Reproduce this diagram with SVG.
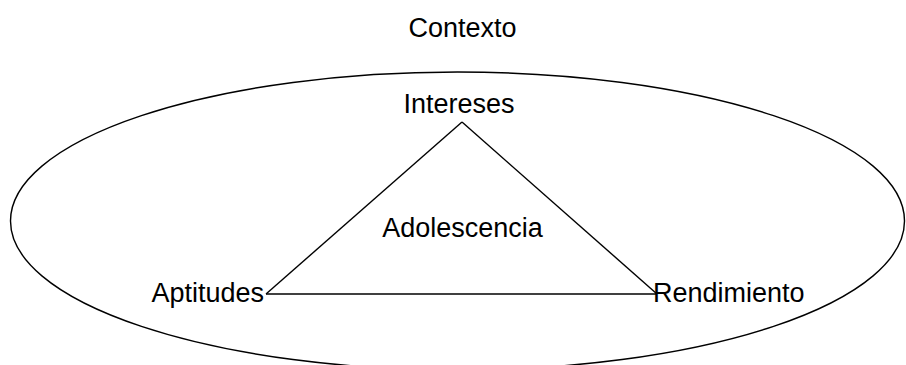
<svg xmlns="http://www.w3.org/2000/svg" width="906" height="365" viewBox="0 0 906 365">
<style>
.t{font-family:"Liberation Sans",Arial,sans-serif;font-size:27px;fill:#000}
.ln{stroke:#000;stroke-width:1.4;fill:none}
</style>
<rect width="906" height="365" fill="#fff"/>
<g id="contexto">
<ellipse class="ln" cx="457.5" cy="221" rx="447" ry="149" stroke-width="1.5"/>
<text class="t" x="462.5" y="37" text-anchor="middle">Contexto</text>
</g>
<g id="connectors">
<line class="ln" x1="462" y1="122" x2="266" y2="294"/>
<line class="ln" x1="462" y1="122" x2="657" y2="294"/>
<line class="ln" x1="266" y1="294" x2="657" y2="294"/>
</g>
<g id="intereses">
<text class="t" x="459" y="113" text-anchor="middle">Intereses</text>
</g>
<g id="adolescencia">
<text class="t" x="462.5" y="237" text-anchor="middle">Adolescencia</text>
</g>
<g id="aptitudes">
<text class="t" x="264" y="302" text-anchor="end">Aptitudes</text>
</g>
<g id="rendimiento">
<text class="t" x="653" y="302">Rendimiento</text>
</g>
</svg>
